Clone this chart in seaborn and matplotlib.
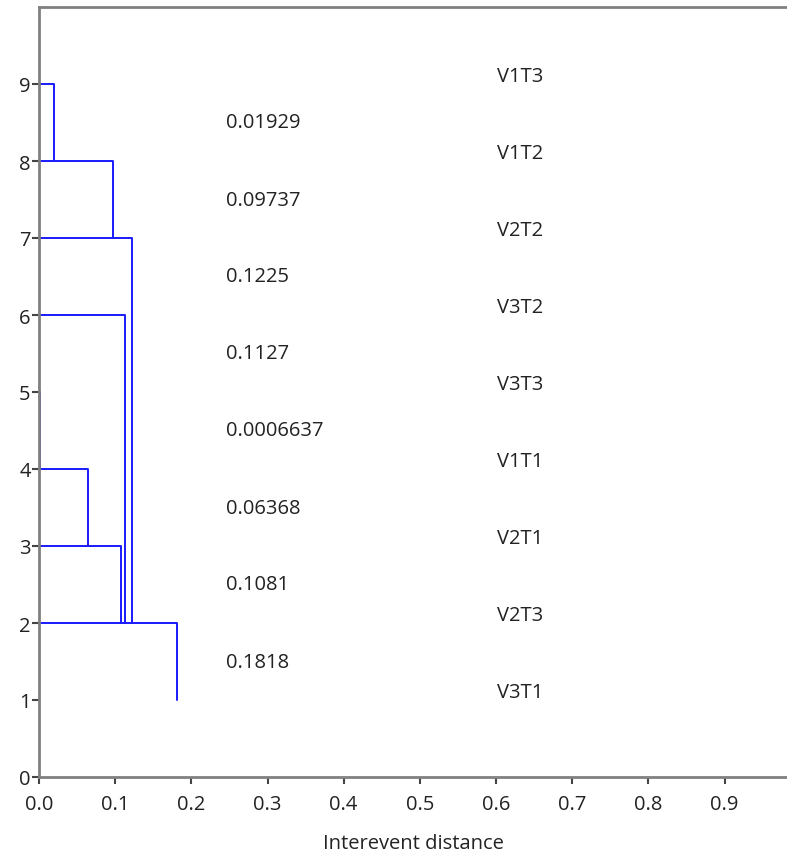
import numpy as np
import pandas as pd
import matplotlib
matplotlib.use("Agg")
import matplotlib.pyplot as plt
import seaborn as sns

sns.set_style("white")
plt.rcParams['font.family'] = ['Open Sans', 'DejaVu Sans']

# leaf names, bottom (level 1) to top (level 9)
leaf_names = ["V3T1", "V2T3", "V2T1", "V1T1", "V3T3", "V3T2", "V2T2", "V1T2", "V1T3"]
# merge distance for levels 2..9 and the level each one joins down to
merge_dist = [0.1818, 0.1081, 0.06368, 0.0006637, 0.1127, 0.1225, 0.09737, 0.01929]
merge_text = ["0.1818", "0.1081", "0.06368", "0.0006637", "0.1127", "0.1225", "0.09737", "0.01929"]
merge_to = [1, 2, 3, 4, 2, 2, 7, 8]

rows = []
for i, (d, t) in enumerate(zip(merge_dist, merge_to)):
    lvl = i + 2
    for k, (x, y) in enumerate([(0, lvl), (d, lvl), (d, t)]):
        rows.append({"link": lvl, "order": k, "x": x, "y": y})
seg = pd.DataFrame(rows)

fs = 14.5
fig = plt.figure(figsize=(7.87, 8.53), dpi=100)
ax = fig.add_axes([39 / 787, 75 / 853, 1 - 39 / 787, 770 / 853])

sns.lineplot(data=seg, x="x", y="y", units="link", estimator=None, sort=False,
             color="#1a1aff", lw=1.4, ax=ax)

for i, txt in enumerate(merge_text):
    ax.text(0.245, i + 1.5, txt, fontsize=fs, va="center", ha="left", color="#222222")
for i, nm in enumerate(leaf_names):
    ax.text(0.601, i + 1.1, nm, fontsize=fs, va="center", ha="left", color="#222222")

ax.set_xlim(0, 0.982)
ax.set_ylim(0, 10)
ax.set_xticks(np.arange(0, 1.0, 0.1))
ax.set_xticklabels([f"{v:.1f}" for v in np.arange(0, 1.0, 0.1)])
ax.set_yticks(range(10))
ax.set_xlabel("Interevent distance", fontsize=fs, color="#222222", labelpad=14)
ax.set_ylabel("")

for s in ["left", "bottom", "top"]:
    ax.spines[s].set_color("#808080")
    ax.spines[s].set_linewidth(2)
ax.spines["right"].set_visible(False)
ax.tick_params(axis="both", direction="out", length=5, width=1.5, color="#444444",
               labelsize=fs, labelcolor="#222222", bottom=True, left=True, pad=1)
ax.tick_params(axis="x", pad=7)

fig.savefig("out.png", dpi=100)
